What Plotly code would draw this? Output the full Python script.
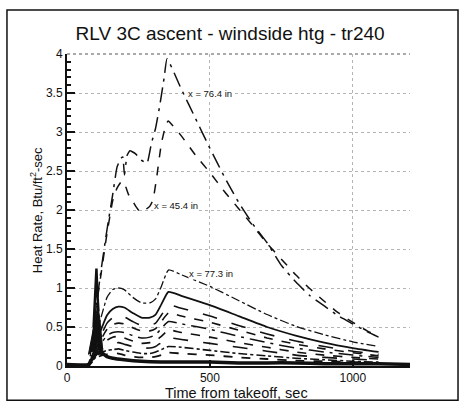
import plotly.graph_objects as go

# ---------------- data ----------------
A_t = [0, 75, 85, 100, 120, 140, 160, 175, 188, 195, 201, 210, 220, 240, 260, 280, 295, 310, 325, 340, 350,
       400, 450, 500, 550, 600, 650, 700, 750, 800, 850, 900, 950, 1000, 1050, 1090]
A_v = [0.02, 0.02, 0.25, 0.7, 1.25, 1.75, 2.2, 2.55, 2.66, 2.68, 2.45, 2.7, 2.76, 2.72, 2.64, 2.6, 2.85, 3.05, 3.35, 3.7, 3.94,
       3.55, 3.17, 2.79, 2.43, 2.1, 1.82, 1.58, 1.29, 1.08, 0.9, 0.77, 0.64, 0.54, 0.44, 0.37]

B_t = [0, 75, 85, 100, 120, 140, 160, 175, 192, 205, 215, 227, 240, 255, 273, 290, 301, 315, 330, 345, 354,
       400, 450, 500, 550, 600, 650, 700, 750, 800, 850, 900, 950, 1000, 1050, 1090]
B_v = [0.02, 0.02, 0.25, 0.7, 1.2, 1.7, 2.12, 2.28, 2.37, 2.3, 2.2, 2.13, 2.05, 1.98, 2.0, 2.05, 2.13, 2.45, 2.85, 3.08, 3.14,
       2.95, 2.7, 2.48, 2.24, 2.02, 1.8, 1.57, 1.37, 1.17, 0.99, 0.83, 0.68, 0.56, 0.45, 0.38]

T = [0, 75, 90, 100, 110, 125, 140, 160, 180, 200, 230, 260, 290, 310, 330, 355, 400, 500, 600, 700, 800, 900, 1000, 1090]
C1 = [0, 0, 0.2, 0.35, 0.5, 0.7, 0.88, 0.98, 1.0, 0.98, 0.88, 0.81, 0.81, 0.86, 1.02, 1.23, 1.17, 1.02, 0.84, 0.66, 0.51, 0.40, 0.31, 0.25]
C2 = [0, 0, 0.15, 0.27, 0.38, 0.52, 0.65, 0.73, 0.76, 0.75, 0.68, 0.62, 0.62, 0.66, 0.79, 0.95, 0.90, 0.78, 0.64, 0.50, 0.39, 0.30, 0.23, 0.18]
C3 = [0, 0, 0.13, 0.23, 0.32, 0.44, 0.55, 0.62, 0.65, 0.63, 0.57, 0.52, 0.52, 0.55, 0.65, 0.78, 0.74, 0.64, 0.52, 0.41, 0.32, 0.25, 0.19, 0.15]
C4 = [0, 0, 0.12, 0.2, 0.28, 0.38, 0.47, 0.53, 0.55, 0.54, 0.49, 0.45, 0.45, 0.48, 0.57, 0.68, 0.64, 0.56, 0.46, 0.36, 0.28, 0.22, 0.17, 0.13]
C5 = [0, 0, 0.1, 0.17, 0.24, 0.32, 0.39, 0.43, 0.44, 0.43, 0.39, 0.36, 0.37, 0.40, 0.48, 0.57, 0.54, 0.47, 0.38, 0.30, 0.23, 0.18, 0.14, 0.11]
C6 = [0, 0, 0.09, 0.15, 0.21, 0.27, 0.33, 0.37, 0.38, 0.36, 0.32, 0.29, 0.30, 0.32, 0.38, 0.46, 0.43, 0.37, 0.30, 0.24, 0.18, 0.14, 0.11, 0.09]
C7 = [0, 0, 0.08, 0.13, 0.18, 0.23, 0.27, 0.29, 0.30, 0.28, 0.25, 0.23, 0.23, 0.25, 0.30, 0.36, 0.34, 0.29, 0.24, 0.19, 0.14, 0.11, 0.09, 0.07]
C8 = [0, 0, 0.07, 0.11, 0.15, 0.18, 0.2, 0.21, 0.22, 0.2, 0.18, 0.16, 0.16, 0.18, 0.21, 0.25, 0.24, 0.2, 0.16, 0.13, 0.1, 0.08, 0.06, 0.05]
C9 = [0, 0, 0.06, 0.1, 0.12, 0.14, 0.15, 0.16, 0.16, 0.14, 0.12, 0.11, 0.11, 0.12, 0.14, 0.17, 0.16, 0.14, 0.11, 0.09, 0.07, 0.06, 0.05, 0.04]

base_t = [0, 75, 90, 100, 110, 125, 140, 160, 200, 260, 330, 400, 500, 600, 700, 800, 900, 1000, 1090, 1200]
base_v = [0.02, 0.02, 0.1, 0.15, 0.17, 0.16, 0.12, 0.1, 0.08, 0.06, 0.05, 0.05, 0.05, 0.04, 0.04, 0.04, 0.03, 0.03, 0.03, 0.02]

wedge_t = [75, 90, 100, 108, 115, 126, 115, 105, 90, 75]
wedge_v = [0.15, 0.45, 0.65, 0.78, 0.6, 0.17, 0.15, 0.3, 0.2, 0.15]

spike_t = [93, 99, 103, 106, 110]
spike_v = [0.5, 0.95, 1.25, 0.95, 0.7]

labels = ["x = 76.4 in", "x = 45.4 in", "x = 77.3 in"]
label_t = [420, 300, 423]
label_v = [3.5, 2.06, 1.19]

x_ticks = [0, 500, 1000]
y_ticks = [0, 0.5, 1, 1.5, 2, 2.5, 3, 3.5, 4]
y_tick_text = ["0", "0.5", "1", "1.5", "2", "2.5", "3", "3.5", "4"]

# ---------------- figure ----------------
INK = "#111111"
FONT = "Liberation Sans, Arial"
fig = go.Figure()

fig.add_trace(go.Scatter(x=wedge_t, y=wedge_v, mode="lines", fill="toself",
                         fillcolor=INK, line=dict(color=INK, width=1), hoverinfo="skip"))
fig.add_trace(go.Scatter(x=spike_t, y=spike_v, mode="lines", line=dict(color=INK, width=2.5)))

family = [C1, C2, C3, C4, C5, C6, C7, C8, C9]
styles = ["dashdot", "solid", "longdash", "dash", "longdashdot", "dash", "longdash", "dashdot", "dash"]
widths = [1.3, 1.8, 1.6, 1.6, 1.5, 1.6, 1.6, 1.6, 1.8]
for vals, st, w in zip(family, styles, widths):
    fig.add_trace(go.Scatter(x=T, y=vals, mode="lines",
                             line=dict(color=INK, width=w, dash=st, shape="spline", smoothing=0.5)))

fig.add_trace(go.Scatter(x=base_t, y=base_v, mode="lines",
                         line=dict(color=INK, width=3.5, shape="spline", smoothing=0.4)))

fig.add_trace(go.Scatter(x=A_t, y=A_v, mode="lines",
                         line=dict(color=INK, width=1.5, dash="longdashdot", shape="spline", smoothing=0.4)))
fig.add_trace(go.Scatter(x=B_t, y=B_v, mode="lines",
                         line=dict(color=INK, width=1.5, dash="dash", shape="spline", smoothing=0.4)))

for txt, tx, ty in zip(labels, label_t, label_v):
    fig.add_annotation(x=tx, y=ty, text=txt, showarrow=False, xanchor="left", yanchor="middle",
                       font=dict(family=FONT, size=9.5, color=INK),
                       bgcolor="white", borderpad=0)

# axis titles placed as annotations (positions)
fig.add_annotation(x=0.495, y=-0.086, xref="paper", yref="paper", text="Time from takeoff, sec",
                   showarrow=False, xanchor="center", yanchor="middle",
                   font=dict(family=FONT, size=14.5, color=INK))
fig.add_annotation(x=-0.09, y=0.5, xref="paper", yref="paper", text="Heat Rate, Btu/ft<sup>2</sup>-sec",
                   showarrow=False, xanchor="center", yanchor="middle", textangle=-90,
                   font=dict(family=FONT, size=13, color=INK))

fig.update_layout(
    width=463, height=410,
    margin=dict(l=67, r=53, t=54, b=44),
    paper_bgcolor="white", plot_bgcolor="white",
    showlegend=False,
    font=dict(family=FONT, color=INK),
    title=dict(text="RLV 3C ascent - windside htg - tr240", x=0.497, xanchor="center",
               y=1 - 33 / 410, yanchor="middle", yref="container",
               font=dict(size=19, family=FONT, color=INK)),
)

fig.update_xaxes(
    range=[0, 1200], tickvals=x_ticks, ticktext=[str(v) for v in x_ticks],
    ticks="inside", ticklen=6, tickwidth=1.5, tickcolor=INK,
    showline=True, linecolor=INK, linewidth=2,
    showgrid=True, gridcolor="#b4b4b4", griddash="dot", gridwidth=1,
    zeroline=False, tickfont=dict(size=12, color=INK),
)
fig.update_yaxes(
    range=[0, 4], tickvals=y_ticks, ticktext=y_tick_text,
    ticks="inside", ticklen=8, tickwidth=1.5, tickcolor=INK,
    minor=dict(dtick=0.1, ticks="inside", ticklen=4, tickcolor=INK, showgrid=False),
    showline=True, linecolor=INK, linewidth=2,
    showgrid=True, gridcolor="#b4b4b4", griddash="dot", gridwidth=1,
    zeroline=False, tickfont=dict(size=12, color=INK),
)

# dotted top border of plot area
fig.add_shape(type="line", xref="paper", yref="paper", x0=0, x1=1, y0=1, y1=1,
              line=dict(color="#555555", width=1.2, dash="dot"))
# outer frame of the scanned page
fig.add_shape(type="rect", xref="paper", yref="paper", x0=-0.175, x1=1.14, y0=-0.11, y1=1.141,
              line=dict(color=INK, width=1.5))

fig.write_html("out.html", config={"displayModeBar": False},
               post_script="document.body.style.margin='0px';")
